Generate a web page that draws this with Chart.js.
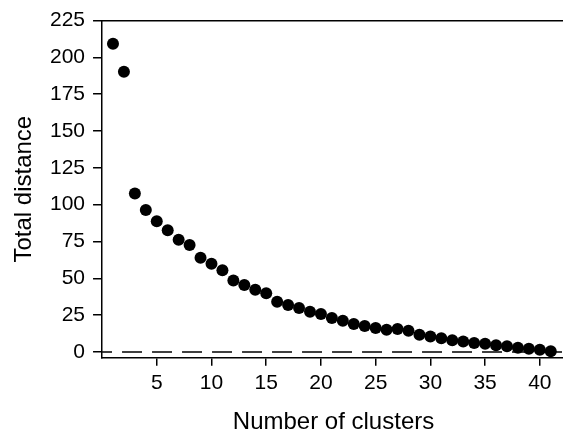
<!DOCTYPE html>
<html>
<head>
<meta charset="utf-8">
<script src="https://cdn.jsdelivr.net/npm/chart.js@4"></script>
<style>
  html, body { margin: 0; padding: 0; background: #fff; overflow: hidden; }
  #wrap { width: 571px; height: 429px; }
</style>
</head>
<body>
<div id="wrap"><canvas id="elbowChart" width="571" height="429"></canvas></div>
<script>
// number of clusters (x) and total distance (y)
const clusters = [1, 2, 3, 4, 5, 6, 7, 8, 9, 10, 11, 12, 13, 14, 15, 16, 17, 18, 19, 20,
    21, 22, 23, 24, 25, 26, 27, 28, 29, 30, 31, 32, 33, 34, 35, 36, 37, 38, 39, 40, 41];
const totalDistance = [209.2, 190.2, 107.6, 96.3, 88.7, 82.6, 76.2, 72.6, 64.0, 59.8,
    55.5, 48.5, 45.4, 42.2, 39.9, 34.1, 31.8, 29.9, 27.3, 25.7,
    23.1, 21.2, 19.0, 17.6, 16.2, 15.1, 15.6, 14.4, 11.7, 10.4,
    9.2, 7.9, 7.0, 6.1, 5.6, 4.5, 3.8, 2.9, 2.2, 1.4, 0.4];
const xTicks = [5, 10, 15, 20, 25, 30, 35, 40];
const yTicks = [0, 25, 50, 75, 100, 125, 150, 175, 200, 225];
const xRange = [0, 42.3];
const yRange = [-4, 225];
const refLine = [0, 0];

const FONT = "'Liberation Sans', Arial, sans-serif";

const axisStyle = {
    grid: { display: true, drawOnChartArea: false, drawTicks: true, tickLength: 9, color: '#000', lineWidth: 1.5 },
    border: { display: true, color: '#000', width: 1.5 },
    ticks: { color: '#000', font: { family: FONT, size: 21 } }
};

const ctx = document.getElementById('elbowChart').getContext('2d');

new Chart(ctx, {
    type: 'scatter',
    data: {
        datasets: [
            {
                data: clusters.map((c, i) => ({ x: c, y: totalDistance[i] })),
                backgroundColor: '#000',
                borderWidth: 0,
                pointRadius: 6,
                pointHoverRadius: 6
            },
            {
                type: 'line',
                data: xRange.map((x, i) => ({ x: x, y: refLine[i] })),
                borderColor: '#000',
                borderWidth: 1.5,
                borderDash: [20, 10],
                borderDashOffset: 10,
                pointRadius: 0,
                fill: false
            }
        ]
    },
    options: {
        responsive: false,
        animation: false,
        layout: { padding: { left: 12, top: 8, right: 0, bottom: -5 } },
        plugins: { legend: { display: false }, tooltip: { enabled: false } },
        scales: {
            x: {
                type: 'linear',
                position: 'bottom',
                min: xRange[0],
                max: xRange[1],
                ...axisStyle,
                grid: { ...axisStyle.grid, tickLength: 8 },
                ticks: { ...axisStyle.ticks, padding: 5 },
                afterBuildTicks: axis => { axis.ticks = xTicks.map(v => ({ value: v })); },
                title: {
                    display: true,
                    text: 'Number of clusters',
                    color: '#000',
                    font: { family: FONT, size: 24, lineHeight: 1 },
                    padding: { top: 9, bottom: 0 }
                }
            },
            x2: {
                type: 'linear',
                position: 'top',
                min: xRange[0],
                max: xRange[1],
                grid: { display: false, drawTicks: false },
                border: { display: true, color: '#000', width: 1.5 },
                ticks: { display: false }
            },
            y: {
                min: yRange[0],
                max: yRange[1],
                ...axisStyle,
                ticks: { ...axisStyle.ticks, padding: 8 },
                afterBuildTicks: axis => { axis.ticks = yTicks.map(v => ({ value: v })); },
                title: {
                    display: true,
                    text: 'Total distance',
                    color: '#000',
                    font: { family: FONT, size: 24, lineHeight: 1 },
                    padding: { top: 0, bottom: 6 }
                }
            }
        }
    }
});
</script>
</body>
</html>
